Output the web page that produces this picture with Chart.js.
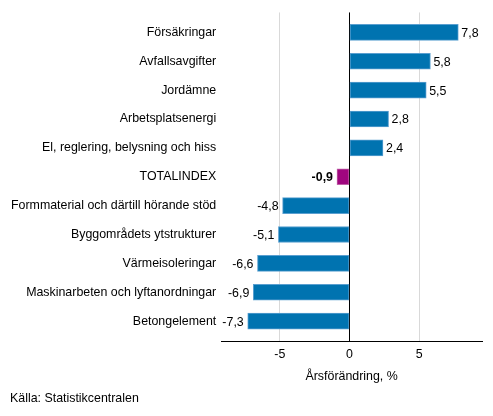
<!DOCTYPE html>
<html>
<head>
<meta charset="utf-8">
<script src="https://cdn.jsdelivr.net/npm/chart.js@4/dist/chart.umd.min.js"></script>
<style>
  html, body { margin: 0; padding: 0; background: #fff; }
  #wrap { width: 493px; height: 416px; }
</style>
</head>
<body>
<div id="wrap"><canvas id="chartBar"></canvas></div>
<script>
/* ---- data ---- */
const categories = [
  "Försäkringar",
  "Avfallsavgifter",
  "Jordämne",
  "Arbetsplatsenergi",
  "El, reglering, belysning och hiss",
  "TOTALINDEX",
  "Formmaterial och därtill hörande stöd",
  "Byggområdets ytstrukturer",
  "Värmeisoleringar",
  "Maskinarbeten och lyftanordningar",
  "Betongelement"
];
const changes = [7.8, 5.8, 5.5, 2.8, 2.4, -0.9, -4.8, -5.1, -6.6, -6.9, -7.3];
const xTicks  = [-5, 0, 5];
const totalName = "TOTALINDEX";

const BLUE = "#0073b0", PURPLE = "#a0067f";
const FONT = "'Liberation Sans', Arial, sans-serif";
const FS = 12.4;

// etiketter vid stapelns ände
const valueLabels = {
  id: "valueLabels",
  afterDatasetsDraw(chart) {
    const ctx = chart.ctx;
    const meta = chart.getDatasetMeta(0);
    ctx.save();
    ctx.fillStyle = "#000";
    ctx.textBaseline = "middle";
    meta.data.forEach(function (bar, i) {
      const v = changes[i];
      const bold = categories[i] === totalName;
      ctx.font = (bold ? "bold " : "") + FS + "px " + FONT;
      ctx.textAlign = v < 0 ? "right" : "left";
      const txt = v.toFixed(1).replace(".", ",");
      ctx.fillText(txt, bar.x + (v < 0 ? -4 : 3), bar.y + 1);
    });
    ctx.restore();
  }
};

new Chart(document.getElementById("chartBar"), {
  type: "bar",
  data: {
    datasets: [{
      data: changes.map((v, i) => ({ x: v, y: i })),
      backgroundColor: categories.map(c => c === totalName ? PURPLE : BLUE),
      borderColor: categories.map(c => c === totalName ? "#c060a8" : "#5a9fd0"),
      borderWidth: 1,
      borderSkipped: false,
      barThickness: 16
    }]
  },
  options: {
    indexAxis: "y",
    responsive: true,
    maintainAspectRatio: false,
    animation: false,
    layout: { padding: { top: 11, right: 11, left: 10, bottom: 0 } },
    plugins: {
      legend: { display: false },
      tooltip: { enabled: false },
      title: {
        display: true,
        position: "bottom",
        align: "start",
        text: "Källa: Statistikcentralen",
        color: "#000",
        font: { family: FONT, size: FS, weight: "normal" },
        padding: { top: 7, bottom: 10 }
      }
    },
    scales: {
      x: {
        type: "linear",
        min: -9.2,
        max: 9.5,
        afterBuildTicks: axis => { axis.ticks = xTicks.map(v => ({ value: v })); },
        ticks: {
          color: "#000",
          padding: 6,
          font: { family: FONT, size: FS },
          callback: v => String(v)
        },
        grid: {
          drawTicks: false,
          color: ctx => ctx.tick && ctx.tick.value === 0 ? "#000" : "#d9d9d9",
          lineWidth: 1
        },
        border: { display: true, color: "#000", width: 1 },
        title: {
          display: true,
          text: "Årsförändring, %",
          color: "#000",
          font: { family: FONT, size: FS },
          padding: { top: 1, bottom: 0 }
        }
      },
      y: {
        type: "linear",
        reverse: true,
        offset: false,
        min: -0.69,
        max: 10.7,
        afterBuildTicks: axis => { axis.ticks = categories.map((c, i) => ({ value: i })); },
        afterFit: axis => { axis.width -= 4; },
        ticks: {
          color: "#000",
          padding: 5,
          font: { family: FONT, size: FS },
          callback: v => categories[v]
        },
        grid: { display: false, drawTicks: false },
        border: { display: false }
      }
    }
  },
  plugins: [valueLabels]
});
</script>
</body>
</html>
